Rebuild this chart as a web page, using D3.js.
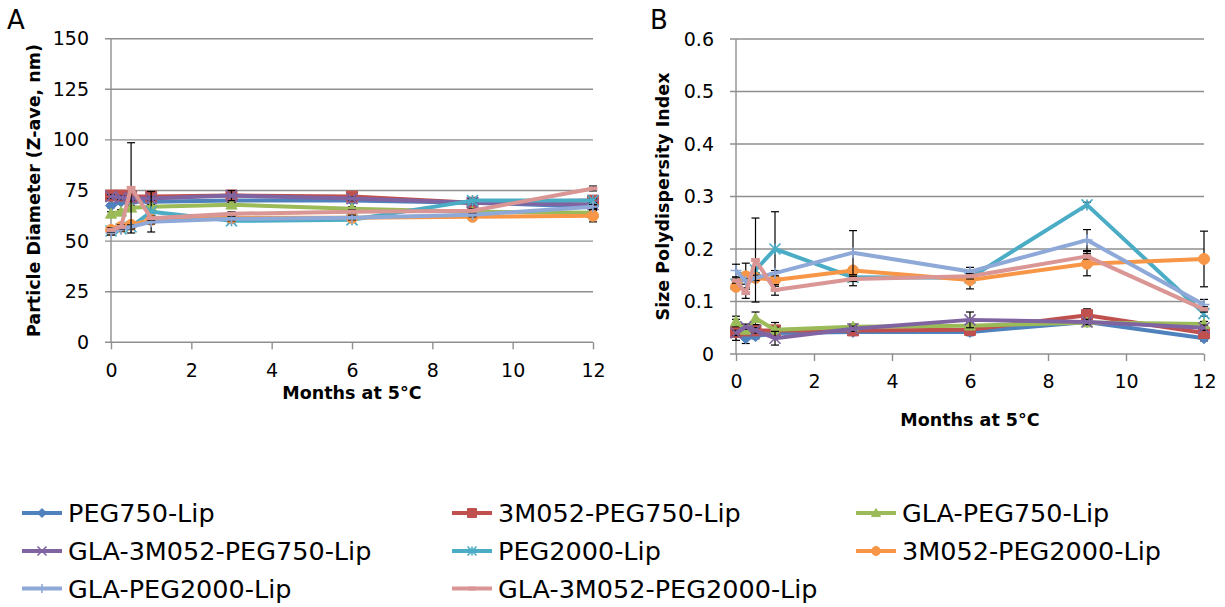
<!DOCTYPE html>
<html>
<head>
<meta charset="utf-8">
<script src="https://cdn.jsdelivr.net/npm/d3@7"></script>
<style>
  html, body { margin: 0; padding: 0; background: #fff; }
  svg { display: block; }
  text { font-family: "DejaVu Sans", "Liberation Sans", sans-serif; fill: #000; }
</style>
</head>
<body>
<svg id="chart" width="1225" height="607"></svg>
<script>
// Sampling times (months of storage at 5 °C)
const months = [0, 0.25, 0.5, 1, 3, 6, 9, 12];
const monthTicks = [0, 2, 4, 6, 8, 10, 12];
const zaveTicks = [0, 25, 50, 75, 100, 125, 150];
const pdiTicks = [0, 0.1, 0.2, 0.3, 0.4, 0.5, 0.6];

const seriesNames = [
  "PEG750-Lip", "3M052-PEG750-Lip", "GLA-PEG750-Lip", "GLA-3M052-PEG750-Lip",
  "PEG2000-Lip", "3M052-PEG2000-Lip", "GLA-PEG2000-Lip", "GLA-3M052-PEG2000-Lip"
];
const seriesColors = ["#4F81BD", "#C0504D", "#9BBB59", "#8064A2", "#4BACC6", "#F79646", "#8EA9D8", "#D99694"];
const seriesMarkers = ["diamond", "square", "triangle", "x", "star", "circle", "plus", "dash"];

// Particle diameter, Z-average (nm)
const zavePEG750          = [67.5, 69.5, 69.5, 69.5, 70.0, 70.0, 69.0, 67.0];
const zave3M052PEG750     = [72.5, 72.5, 72.0, 72.0, 72.5, 72.0, 69.0, 70.0];
const zaveGLAPEG750       = [63.5, 64.5, 66.5, 67.0, 68.0, 66.0, 64.5, 64.0];
const zaveGLA3M052PEG750  = [72.0, 71.5, 71.0, 71.0, 72.5, 71.0, 69.0, 68.0];
const zavePEG2000         = [55.0, 56.0, 57.0, 64.5, 60.0, 60.5, 70.0, 70.0];
const zave3M052PEG2000    = [55.5, 57.0, 58.0, 60.5, 61.5, 61.5, 62.0, 62.5];
const zaveGLAPEG2000      = [54.0, 56.0, 57.0, 59.5, 61.0, 61.5, 63.0, 67.0];
const zaveGLA3M052PEG2000 = [55.5, 57.0, 76.3, 61.3, 63.5, 64.5, 65.0, 76.0];

// Standard deviation of the Z-average (nm)
const zaveSdPEG750          = [1.0, 1.0, 1.0, 1.0, 1.0, 1.0, 1.0, 1.0];
const zaveSd3M052PEG750     = [1.0, 1.0, 1.0, 1.0, 1.0, 1.0, 1.0, 1.0];
const zaveSdGLAPEG750       = [1.0, 1.0, 1.0, 1.0, 1.0, 1.0, 1.0, 1.0];
const zaveSdGLA3M052PEG750  = [1.0, 1.0, 1.0, 1.0, 2.5, 1.0, 1.0, 1.0];
const zaveSdPEG2000         = [1.0, 1.0, 1.0, 10.0, 1.0, 1.0, 1.0, 1.0];
const zaveSd3M052PEG2000    = [1.0, 1.0, 1.0, 1.0, 1.0, 1.0, 1.0, 3.0];
const zaveSdGLAPEG2000      = [1.0, 1.0, 1.0, 1.0, 1.0, 1.0, 1.0, 1.0];
const zaveSdGLA3M052PEG2000 = [1.0, 1.0, 22.3, 1.0, 1.0, 1.0, 1.0, 1.2];

// Size polydispersity index
const pdiPEG750          = [0.046, 0.030, 0.034, 0.040, 0.042, 0.042, 0.061, 0.030];
const pdi3M052PEG750     = [0.042, 0.045, 0.045, 0.045, 0.045, 0.046, 0.074, 0.040];
const pdiGLAPEG750       = [0.062, 0.046, 0.068, 0.046, 0.052, 0.054, 0.060, 0.057];
const pdiGLA3M052PEG750  = [0.040, 0.052, 0.045, 0.030, 0.048, 0.065, 0.061, 0.050];
const pdiPEG2000         = [0.133, 0.146, 0.160, 0.200, 0.146, 0.145, 0.284, 0.077];
const pdi3M052PEG2000    = [0.128, 0.148, 0.145, 0.141, 0.159, 0.141, 0.172, 0.181];
const pdiGLAPEG2000      = [0.159, 0.138, 0.145, 0.154, 0.193, 0.157, 0.217, 0.094];
const pdiGLA3M052PEG2000 = [0.140, 0.116, 0.179, 0.122, 0.143, 0.148, 0.186, 0.085];

// Standard deviation of the polydispersity index
const pdiSdPEG750          = [0.020, 0.010, 0.005, 0.005, 0.005, 0.007, 0.005, 0.005];
const pdiSd3M052PEG750     = [0.005, 0.005, 0.005, 0.015, 0.008, 0.005, 0.012, 0.005];
const pdiSdGLAPEG750       = [0.010, 0.005, 0.012, 0.005, 0.005, 0.005, 0.005, 0.005];
const pdiSdGLA3M052PEG750  = [0.005, 0.005, 0.005, 0.013, 0.005, 0.015, 0.005, 0.005];
const pdiSdPEG2000         = [0.005, 0.005, 0.005, 0.071, 0.016, 0.005, 0.005, 0.005];
const pdiSd3M052PEG2000    = [0.005, 0.025, 0.005, 0.005, 0.005, 0.017, 0.023, 0.053];
const pdiSdGLAPEG2000      = [0.012, 0.005, 0.005, 0.005, 0.042, 0.008, 0.020, 0.010];
const pdiSdGLA3M052PEG2000 = [0.005, 0.010, 0.080, 0.010, 0.005, 0.005, 0.005, 0.005];

const zaveSeries = [zavePEG750, zave3M052PEG750, zaveGLAPEG750, zaveGLA3M052PEG750,
                    zavePEG2000, zave3M052PEG2000, zaveGLAPEG2000, zaveGLA3M052PEG2000];
const zaveSd = [zaveSdPEG750, zaveSd3M052PEG750, zaveSdGLAPEG750, zaveSdGLA3M052PEG750,
                zaveSdPEG2000, zaveSd3M052PEG2000, zaveSdGLAPEG2000, zaveSdGLA3M052PEG2000];
const pdiSeries = [pdiPEG750, pdi3M052PEG750, pdiGLAPEG750, pdiGLA3M052PEG750,
                   pdiPEG2000, pdi3M052PEG2000, pdiGLAPEG2000, pdiGLA3M052PEG2000];
const pdiSd = [pdiSdPEG750, pdiSd3M052PEG750, pdiSdGLAPEG750, pdiSdGLA3M052PEG750,
               pdiSdPEG2000, pdiSd3M052PEG2000, pdiSdGLAPEG2000, pdiSdGLA3M052PEG2000];

const svg = d3.select("#chart");
const gridColor = "#8f8f8f";

// Marker shapes drawn as paths centred on (0,0)
function markerPath(kind, s) {
  const h = s / 2;
  switch (kind) {
    case "diamond": return `M0,${-h}L${h},0L0,${h}L${-h},0Z`;
    case "square": return `M${-h},${-h}H${h}V${h}H${-h}Z`;
    case "triangle": return `M0,${-h}L${h},${h * 0.8}L${-h},${h * 0.8}Z`;
    case "circle": return d3.symbol(d3.symbolCircle, Math.PI * h * h)();
    case "x": return `M${-h},${-h}L${h},${h}M${-h},${h}L${h},${-h}`;
    case "star": return `M${-h},${-h}L${h},${h}M${-h},${h}L${h},${-h}M0,${-h}V${h}`;
    case "plus": return `M${-h},0H${h}M0,${-h}V${h}`;
    case "dash": return `M${-h * 0.8},0H${h * 0.8}`;
  }
}
function isOpenMarker(kind) { return kind === "x" || kind === "star" || kind === "plus" || kind === "dash"; }

function drawMarker(g, kind, color, size) {
  const p = g.append("path").attr("d", markerPath(kind, size));
  if (isOpenMarker(kind)) {
    p.attr("fill", "none").attr("stroke", color).attr("stroke-width", kind === "dash" ? 4 : 1.6);
  } else {
    p.attr("fill", color).attr("stroke", color).attr("stroke-width", 1);
  }
}

function drawPanel(opts) {
  const { x0, x1, yTop, yBottom, domainY, ticksY, fmtY, values, sds, yTitle, yTitleX, xTitleY, letter, letterX } = opts;
  const x = d3.scaleLinear().domain([0, 12]).range([x0, x1]);
  const y = d3.scaleLinear().domain(domainY).range([yBottom, yTop]);
  const g = svg.append("g");

  // horizontal gridlines (extend a short tick to the left of the axis)
  g.append("g").selectAll("line").data(ticksY).join("line")
    .attr("x1", x0 - 6).attr("x2", x1)
    .attr("y1", d => y(d)).attr("y2", d => y(d))
    .attr("stroke", gridColor).attr("stroke-width", 1.4);

  // vertical axis line
  g.append("line").attr("x1", x0).attr("x2", x0).attr("y1", yTop).attr("y2", yBottom)
    .attr("stroke", gridColor).attr("stroke-width", 1.4);

  // y tick labels
  const ya = g.append("g").attr("transform", `translate(${x0},0)`)
    .call(d3.axisLeft(y).tickValues(ticksY).tickFormat(fmtY).tickSize(0).tickPadding(22));
  ya.select(".domain").remove();
  ya.selectAll("text").attr("font-family", "DejaVu Sans").attr("font-size", 19).attr("fill", "#000");

  // x axis ticks and labels
  const xa = g.append("g").attr("transform", `translate(0,${yBottom})`)
    .call(d3.axisBottom(x).tickValues(monthTicks).tickSize(7).tickSizeOuter(0).tickPadding(14));
  xa.select(".domain").remove();
  xa.selectAll("line").attr("stroke", gridColor).attr("stroke-width", 1.4);
  xa.selectAll("text").attr("font-family", "DejaVu Sans").attr("font-size", 19).attr("fill", "#000");

  // series: error bars, line, markers
  values.forEach((vals, i) => {
    const color = seriesColors[i];
    const sg = g.append("g");
    const pts = months.map((m, j) => ({ m, v: vals[j], sd: sds[i][j] }));
    const eb = sg.append("g").attr("stroke", "#000").attr("stroke-width", 1.2);
    pts.forEach(p => {
      const xx = x(p.m), ya1 = y(p.v + p.sd), ya2 = y(p.v - p.sd);
      eb.append("line").attr("x1", xx).attr("x2", xx).attr("y1", ya1).attr("y2", ya2);
      eb.append("line").attr("x1", xx - 4).attr("x2", xx + 4).attr("y1", ya1).attr("y2", ya1);
      eb.append("line").attr("x1", xx - 4).attr("x2", xx + 4).attr("y1", ya2).attr("y2", ya2);
    });
    sg.append("path")
      .attr("d", d3.line().x(p => x(p.m)).y(p => y(p.v))(pts))
      .attr("fill", "none").attr("stroke", color).attr("stroke-width", 4)
      .attr("stroke-linejoin", "round");
    pts.forEach(p => {
      const mg = sg.append("g").attr("transform", `translate(${x(p.m)},${y(p.v)})`);
      drawMarker(mg, seriesMarkers[i], color, 11);
    });
  });

  // axis titles
  g.append("text").attr("x", (x0 + x1) / 2).attr("y", xTitleY)
    .attr("text-anchor", "middle").attr("font-weight", "bold").attr("font-size", 17.5)
    .text("Months at 5°C");
  g.append("text")
    .attr("transform", `translate(${yTitleX},${(yTop + yBottom) / 2}) rotate(-90)`)
    .attr("text-anchor", "middle").attr("dominant-baseline", "central")
    .attr("font-weight", "bold").attr("font-size", 17.5)
    .text(yTitle);

  // panel letter
  g.append("text").attr("x", letterX).attr("y", 29).attr("font-size", 26).text(letter);
}

drawPanel({
  x0: 111, x1: 593, yTop: 38.7, yBottom: 342.3, domainY: [0, 150], ticksY: zaveTicks,
  fmtY: d3.format("d"), values: zaveSeries, sds: zaveSd,
  yTitle: "Particle Diameter (Z-ave, nm)", yTitleX: 34, xTitleY: 399, letter: "A", letterX: 7
});
drawPanel({
  x0: 736, x1: 1204, yTop: 39, yBottom: 354, domainY: [0, 0.6], ticksY: pdiTicks,
  fmtY: d => d === 0 ? "0" : d3.format(".1f")(d), values: pdiSeries, sds: pdiSd,
  yTitle: "Size Polydispersity Index", yTitleX: 663, xTitleY: 426, letter: "B", letterX: 650
});

// legend: three columns, filled row by row
const legend = svg.append("g");
const colX = [22, 452, 856];
const rowY = [513, 551, 588.5];
seriesNames.forEach((name, i) => {
  const cx = colX[i % 3], cy = rowY[Math.floor(i / 3)];
  const lg = legend.append("g").attr("transform", `translate(${cx},${cy})`);
  lg.append("line").attr("x1", 0).attr("x2", 40).attr("y1", 0).attr("y2", 0)
    .attr("stroke", seriesColors[i]).attr("stroke-width", 4);
  const mg = lg.append("g").attr("transform", "translate(20,0)");
  drawMarker(mg, seriesMarkers[i], seriesColors[i], 9);
  lg.append("text").attr("x", 46).attr("y", 0).attr("dominant-baseline", "central")
    .attr("font-size", 25.5).text(name);
});
</script>
</body>
</html>
